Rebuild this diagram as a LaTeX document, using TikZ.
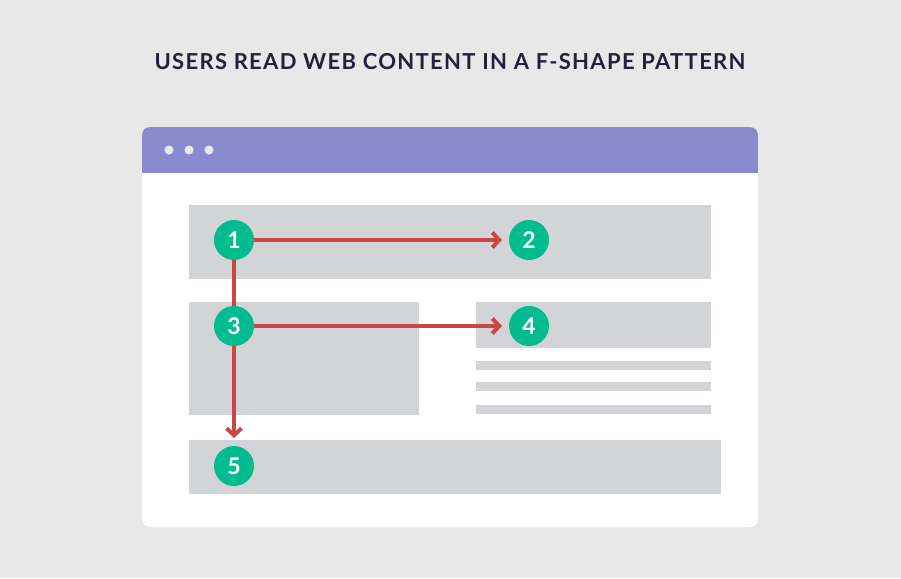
\documentclass[tikz,border=0pt]{standalone}
\usepackage{fontspec}
\setmainfont{Lato}
\newfontfamily\titlefont[LetterSpace=6]{Lato}
\usetikzlibrary{arrows.meta}
\definecolor{bgcol}{HTML}{E8E8E8}
\definecolor{barcol}{HTML}{8A8ACF}
\definecolor{blockcol}{HTML}{D3D4D8}
\definecolor{pathcol}{HTML}{C84848}
\definecolor{stepcol}{HTML}{00BC8E}
\definecolor{titlecol}{HTML}{22223A}
\tikzset{
  block/.style={fill=blockcol, draw=none},
  stepdot/.style={circle, fill=stepcol, minimum size=40pt, inner sep=0pt,
    text=white, font=\bfseries\fontsize{23}{23}\selectfont},
  readpath/.style={pathcol, line width=4pt, -{Straight Barb[length=7pt,width=15pt,line width=4pt]}},
  readline/.style={pathcol, line width=4pt}
}
\begin{document}
\begin{tikzpicture}[x=1pt, y=-1pt]
  \fill[bgcol] (0,0) rectangle (901,578);
  \useasboundingbox (0,0) rectangle (901,578);
  \node[text=titlecol, font=\titlefont\bfseries\fontsize{22}{22}\selectfont] (title) at (450,62) {USERS READ WEB CONTENT IN A F-SHAPE PATTERN};

  % browser window
  \fill[white, rounded corners=8pt] (142,127) rectangle (758,527);
  \begin{scope}
    \clip[rounded corners=8pt] (142,127) rectangle (758,200);
    \fill[barcol] (142,127) rectangle (758,173);
  \end{scope}
  \foreach \dx in {169,189,209}
    \fill[bgcol] (\dx,150) circle (4.5pt);

  % content blocks
  \fill[block] (189,205) rectangle (711,279);
  \fill[block] (189,302) rectangle (419,415);
  \fill[block] (476,302) rectangle (711,348);
  \foreach \ly in {361,382,405}
    \fill[block] (476,\ly) rectangle (711,\ly+9);
  \fill[block] (189,440) rectangle (721,494);

  % reading steps
  \coordinate (end1) at (502,240);
  \coordinate (end3) at (502,326);
  \coordinate (end5) at (234,438);
  \draw[readline] (234,240) -- (234,326);
  \draw[readpath] (234,240) -- (end1);
  \draw[readpath] (234,326) -- (end3);
  \draw[readpath] (234,326) -- (end5);

  \node[stepdot] (s1) at (234,240) {1};
  \node[stepdot] (s2) at (529,240) {2};
  \node[stepdot] (s3) at (234,326) {3};
  \node[stepdot] (s4) at (529,326) {4};
  \node[stepdot] (s5) at (234,466) {5};
\end{tikzpicture}
\end{document}
